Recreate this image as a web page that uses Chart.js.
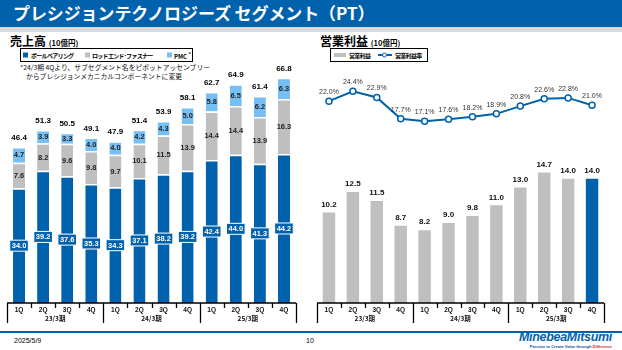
<!DOCTYPE html>
<html lang="ja">
<head>
<meta charset="utf-8">
<script src="https://cdn.jsdelivr.net/npm/chart.js@4"></script>
<style>
  body { margin: 0; width: 622px; height: 350px; background: #fff; position: relative; overflow: hidden;
         font-family: "Noto Sans CJK JP", "Liberation Sans", sans-serif; color: #000; }
  .abs { position: absolute; }
  #titlebar { left: 0; top: 0; width: 622px; height: 27px; background: #0062AC; }
  #title { left: 13px; top: 1px; color: #fff; font-weight: bold; font-size: 17px; letter-spacing: -0.1px; white-space: nowrap; line-height: 24px; }
  #band { left: 0; top: 27px; width: 622px; height: 5px; background: #D9D9D9; }
  .head { font-weight: bold; font-size: 12px; line-height: 14px; white-space: nowrap; }
  .head small { font-size: 7.5px; }
  .legend { border: 1.5px solid #000; height: 14px; box-sizing: border-box; font-size: 6px; font-weight: bold;
            white-space: nowrap; letter-spacing: -0.7px; }
  .legend > * { position: absolute; top: 50%; transform: translateY(-50%); }
  .sw { width: 5px; height: 5px; }
  .note { font-size: 6.8px; line-height: 9px; white-space: nowrap; color: #111; }
  canvas { position: absolute; }
  #footline { left: 0; top: 331px; width: 622px; height: 2px; background: #0062AC; }
  .foot { font-size: 7px; font-family: "Liberation Sans", sans-serif; top: 337px; }
  #logo { right: 10px; top: 331px; text-align: right; font-family: "Liberation Sans", sans-serif; }
  #logo b { font-style: italic; color: #0062AC; font-size: 12.5px; letter-spacing: -0.3px; display: block; line-height: 13px; }
  #logo span { font-size: 4px; font-weight: bold; color: #1a4fa0; display: block; line-height: 5px; }
  #logo span i { color: #d0202b; }
</style>
</head>
<body>
<div class="abs" id="titlebar"></div>
<div class="abs" id="title">プレシジョンテクノロジーズ セグメント（PT）</div>
<div class="abs" id="band"></div>

<div class="abs head" style="left:10px;top:34px;">売上高 <small>(10億円)</small></div>
<div class="abs legend" style="left:20px;top:48px;width:173px;">
  <span class="sw" style="left:2px;background:#0062AC"></span><span style="left:10px">ボールベアリング</span>
  <span class="sw" style="left:64px;background:#BFBFBF"></span><span style="left:71px">ロッドエンド･ファスナー</span>
  <span class="sw" style="left:146px;background:#75BFF3"></span><span style="left:153px;letter-spacing:0">PMC <sup style="font-size:5px">*</sup></span>
</div>
<div class="abs note" style="left:20px;top:63px;">*24/3期 4Qより、サブセグメント名をピボットアッセンブリー</div>
<div class="abs note" style="left:26px;top:72px;">からプレシジョンメカニカルコンポーネントに変更</div>

<div class="abs head" style="left:320px;top:34px;">営業利益 <small>(10億円)</small></div>
<div class="abs legend" style="left:330px;top:48px;width:98px;">
  <span style="left:3px;width:12px;height:4px;background:#BFBFBF"></span><span style="left:18px">営業利益</span>
  <span style="left:47px;width:14px;height:2px;background:#0062AC"></span>
  <span style="left:51px;width:3px;height:3px;border:1.2px solid #0062AC;border-radius:50%;background:#fff"></span>
  <span style="left:64px">営業利益率</span>
</div>

<canvas id="sales" class="abs" style="left:0;top:40px;" width="305" height="290"></canvas>
<canvas id="profit" class="abs" style="left:305px;top:40px;" width="317" height="290"></canvas>

<div class="abs" id="footline"></div>
<div class="abs foot" style="left:14px;">2025/5/9</div>
<div class="abs foot" style="left:306px;">10</div>
<div class="abs" id="logo"><b>MinebeaMitsumi</b><span>Passion to Create Value through <i>Difference</i></span></div>

<script>
// ---- data ----
const quarters = ['1Q', '2Q', '3Q', '4Q', '1Q', '2Q', '3Q', '4Q', '1Q', '2Q', '3Q', '4Q'];
const fiscalYears = ['23/3期', '24/3期', '25/3期'];
const ballBearing = [34.0, 39.2, 37.6, 35.3, 34.3, 37.1, 38.2, 39.2, 42.4, 44.0, 41.3, 44.2];
const rodEnd = [7.6, 8.2, 9.6, 9.8, 9.7, 10.1, 11.5, 13.9, 14.4, 14.4, 13.9, 16.3];
const pmc = [4.7, 3.9, 3.3, 4.0, 4.0, 4.2, 4.3, 5.0, 5.8, 6.5, 6.2, 6.3];
const salesTotal = [46.4, 51.3, 50.5, 49.1, 47.9, 51.4, 53.9, 58.1, 62.7, 64.9, 61.4, 66.8];
const opProfit = [10.2, 12.5, 11.5, 8.7, 8.2, 9.0, 9.8, 11.0, 13.0, 14.7, 14.0, 14.0];
const opMargin = [22.0, 24.4, 22.9, 17.7, 17.1, 17.6, 18.2, 18.9, 20.8, 22.6, 22.8, 21.0];

const BLUE = '#0062AC', GRAY = '#BFBFBF', LIGHT = '#75BFF3';
const NUM_FONT = '"Liberation Sans", Arial, sans-serif';

// x axis with quarter ticks and fiscal year groups
const quarterAxis = {
    id: 'quarterAxis',
    afterDraw(chart) {
        const ctx = chart.ctx, a = chart.chartArea;
        const step = (a.right - a.left) / quarters.length;
        ctx.save();
        ctx.strokeStyle = '#000';
        ctx.lineWidth = 1.3;
        ctx.beginPath();
        ctx.moveTo(a.left, a.bottom);
        ctx.lineTo(a.right, a.bottom);
        for (let i = 0; i <= quarters.length; i++) {
            const x = Math.round(a.left + step * i) + 0.5;
            ctx.moveTo(x, a.bottom);
            ctx.lineTo(x, a.bottom + (i % 4 === 0 ? 20 : 5));
        }
        ctx.stroke();
        ctx.fillStyle = '#111';
        ctx.textAlign = 'center';
        ctx.textBaseline = 'middle';
        ctx.font = 'bold 6.5px ' + NUM_FONT;
        quarters.forEach((q, i) => {
            ctx.fillText(q, chart.scales.x.getPixelForValue(i), a.bottom + 7);
        });
        ctx.font = 'bold 6.5px "Noto Sans CJK JP", sans-serif';
        fiscalYears.forEach((fy, g) => {
            const x0 = chart.scales.x.getPixelForValue(g * 4);
            const x1 = chart.scales.x.getPixelForValue(g * 4 + 3);
            ctx.fillText(fy, (x0 + x1) / 2, a.bottom + 16);
        });
        ctx.restore();
    }
};

// value labels for the sales chart
const salesLabels = {
    id: 'salesLabels',
    afterDatasetsDraw(chart) {
        const ctx = chart.ctx;
        ctx.save();
        ctx.textAlign = 'center';
        ctx.textBaseline = 'middle';
        ctx.font = 'bold 7.5px ' + NUM_FONT;
        chart.data.datasets.forEach((ds, d) => {
            chart.getDatasetMeta(d).data.forEach((bar, i) => {
                const y = (bar.y + bar.base) / 2;
                const txt = ds.data[i].toFixed(1);
                if (d === 0) {
                    const w = ctx.measureText(txt).width + 4;
                    ctx.fillStyle = BLUE;
                    ctx.fillRect(bar.x - w / 2, y - 5.5, w, 11);
                    ctx.strokeStyle = '#fff';
                    ctx.lineWidth = 1;
                    ctx.strokeRect(bar.x - w / 2, y - 5.5, w, 11);
                    ctx.fillStyle = '#fff';
                } else {
                    ctx.fillStyle = '#222';
                }
                ctx.fillText(txt, bar.x, y + 0.5);
            });
        });
        const top = chart.getDatasetMeta(2).data;
        ctx.fillStyle = '#000';
        ctx.font = 'bold 8px ' + NUM_FONT;
        salesTotal.forEach((v, i) => ctx.fillText(v.toFixed(1), top[i].x, top[i].y - 9));
        ctx.restore();
    }
};

const profitLabels = {
    id: 'profitLabels',
    afterDatasetsDraw(chart) {
        const ctx = chart.ctx;
        ctx.save();
        ctx.textAlign = 'center';
        ctx.textBaseline = 'middle';
        ctx.font = 'bold 8px ' + NUM_FONT;
        ctx.fillStyle = '#111';
        chart.getDatasetMeta(1).data.forEach((bar, i) => {
            ctx.fillText(opProfit[i].toFixed(1), bar.x, bar.y - 8);
        });
        ctx.font = '7px ' + NUM_FONT;
        ctx.fillStyle = '#333';
        chart.getDatasetMeta(0).data.forEach((pt, i) => {
            ctx.fillText(opMargin[i].toFixed(1) + '%', pt.x, pt.y - 9);
        });
        ctx.restore();
    }
};

const commonOptions = {
    responsive: false,
    animation: false,
    plugins: { legend: { display: false }, tooltip: { enabled: false } },
};

new Chart(document.getElementById('sales'), {
    type: 'bar',
    data: {
        labels: quarters,
        datasets: [
            { label: 'ボールベアリング', data: ballBearing, backgroundColor: BLUE },
            { label: 'ロッドエンド･ファスナー', data: rodEnd, backgroundColor: GRAY },
            { label: 'PMC', data: pmc, backgroundColor: LIGHT }
        ].map(ds => Object.assign(ds, {
            borderColor: '#fff',
            borderWidth: { top: 1.5, left: 0, right: 0, bottom: 0 },
            borderSkipped: false,
            barPercentage: 0.5,
            categoryPercentage: 1
        }))
    },
    options: Object.assign({}, commonOptions, {
        layout: { padding: { left: 7, right: 9, top: 0, bottom: 27 } },
        scales: {
            x: { display: false, stacked: true },
            y: { display: false, stacked: true, min: 0, max: 78 }
        }
    }),
    plugins: [quarterAxis, salesLabels]
});

new Chart(document.getElementById('profit'), {
    type: 'bar',
    data: {
        labels: quarters,
        datasets: [
            {
                type: 'line', label: '営業利益率', data: opMargin, yAxisID: 'y1',
                borderColor: BLUE, borderWidth: 2, pointRadius: 3,
                pointBackgroundColor: '#fff', pointBorderColor: BLUE, pointBorderWidth: 1.5
            },
            {
                label: '営業利益', data: opProfit,
                backgroundColor: opProfit.map((v, i) => i === opProfit.length - 1 ? BLUE : GRAY),
                barPercentage: 0.52, categoryPercentage: 1
            }
        ]
    },
    options: Object.assign({}, commonOptions, {
        layout: { padding: { left: 12, right: 18, top: 0, bottom: 27 } },
        scales: {
            x: { display: false },
            y: { display: false, min: 0, max: 29 },
            y1: { display: false, min: -27.3, max: 35.6 }
        }
    }),
    plugins: [quarterAxis, profitLabels]
});
</script>
</body>
</html>
